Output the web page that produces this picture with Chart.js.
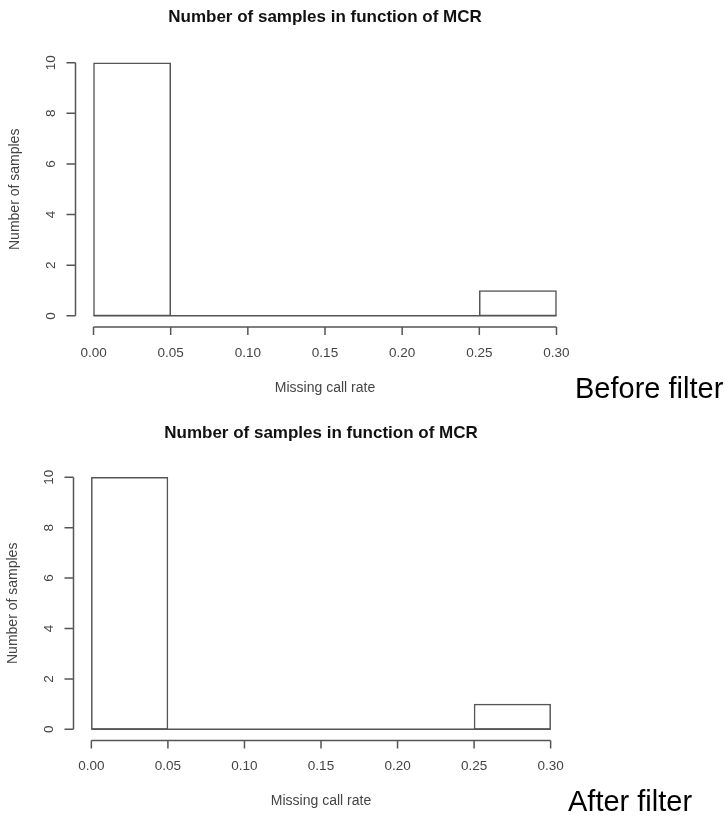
<!DOCTYPE html>
<html>
<head>
<meta charset="utf-8">
<script src="https://cdn.jsdelivr.net/npm/chart.js@4.4.1/dist/chart.umd.min.js"></script>
<style>
  body { margin: 0; background: #fff; width: 725px; height: 817px; position: relative; overflow: hidden; }
  canvas { position: absolute; left: 0; }
  #c1 { top: 0; }
  #c2 { top: 400px; }
  .note { position: absolute; font-family: 'Liberation Sans', Arial, sans-serif; font-size: 29px; color: #000; line-height: 1; white-space: nowrap; }
</style>
</head>
<body>
<canvas id="c1" width="725" height="400"></canvas>
<canvas id="c2" width="725" height="417"></canvas>
<div class="note" style="left:575px; top:374px;">Before filter</div>
<div class="note" style="left:568px; top:787px;">After filter</div>
<script>
// histogram bins (missing call rate) and counts
const binEdges = [0, 0.05, 0.10, 0.15, 0.20, 0.25, 0.30];
const countsBefore = [10, 0, 0, 0, 0, 1];
const countsAfter = [10, 0, 0, 0, 0, 1];
const xTicks = [0, 0.05, 0.10, 0.15, 0.20, 0.25, 0.30];
const yTicks = [0, 2, 4, 6, 8, 10];

const titleText = 'Number of samples in function of MCR';
const xLabel = 'Missing call rate';
const yLabel = 'Number of samples';

const FONT = "'Liberation Sans', Arial, sans-serif";
const LINE = '#555';

// R base graphics look: detached axes, rotated y labels, title
const rStyle = {
    id: 'rStyle',
    afterDatasetsDraw(chart, args, opts) {
        const ctx = chart.ctx;
        const xs = chart.scales.x, ys = chart.scales.y;
        const area = chart.chartArea;
        ctx.save();
        ctx.strokeStyle = LINE;
        ctx.lineWidth = 1.5;

        // zero-height bins still show their edge on the baseline
        const y0 = ys.getPixelForValue(0);
        ctx.beginPath();
        ctx.moveTo(xs.getPixelForValue(binEdges[0]), y0);
        ctx.lineTo(xs.getPixelForValue(binEdges[binEdges.length - 1]), y0);
        ctx.stroke();

        // x axis
        const ax = area.bottom + 1;
        ctx.beginPath();
        ctx.moveTo(xs.getPixelForValue(xTicks[0]), ax);
        ctx.lineTo(xs.getPixelForValue(xTicks[xTicks.length - 1]), ax);
        xTicks.forEach(t => {
            const px = xs.getPixelForValue(t);
            ctx.moveTo(px, ax);
            ctx.lineTo(px, ax + 8);
        });
        ctx.stroke();

        // y axis
        const ay = area.left + 0.5;
        ctx.beginPath();
        ctx.moveTo(ay, ys.getPixelForValue(yTicks[0]));
        ctx.lineTo(ay, ys.getPixelForValue(yTicks[yTicks.length - 1]));
        yTicks.forEach(t => {
            const py = ys.getPixelForValue(t);
            ctx.moveTo(ay, py);
            ctx.lineTo(ay - 9, py);
        });
        ctx.stroke();

        ctx.fillStyle = '#444';
        ctx.textAlign = 'center';
        ctx.textBaseline = 'middle';
        ctx.font = '13.5px ' + FONT;
        xTicks.forEach(t => {
            ctx.fillText(t.toFixed(2), xs.getPixelForValue(t), ax + 26);
        });
        yTicks.forEach(t => {
            ctx.save();
            ctx.translate(ay - 24, ys.getPixelForValue(t));
            ctx.rotate(-Math.PI / 2);
            ctx.fillText(String(t), 0, 0);
            ctx.restore();
        });

        const midX = (area.left + area.right) / 2;
        const midY = (area.top + area.bottom) / 2;
        ctx.font = '14px ' + FONT;
        ctx.fillText(xLabel, midX, area.bottom + 62);
        ctx.save();
        ctx.translate(opts.yLabelX, midY);
        ctx.rotate(-Math.PI / 2);
        ctx.fillText(yLabel, 0, 0);
        ctx.restore();

        ctx.fillStyle = '#111';
        ctx.font = 'bold 17px ' + FONT;
        ctx.fillText(titleText, midX, opts.titleY);
        ctx.restore();
    }
};

function makeHist(id, counts, pad, titleY, yLabelX) {
    const pts = counts.map((c, i) => ({ x: (binEdges[i] + binEdges[i + 1]) / 2, y: c }));
    return new Chart(document.getElementById(id), {
        type: 'bar',
        data: {
            datasets: [{
                data: pts,
                backgroundColor: '#fff',
                borderColor: LINE,
                borderWidth: 1.5,
                borderSkipped: false,
                barPercentage: 1,
                categoryPercentage: 1
            }]
        },
        options: {
            responsive: false,
            animation: false,
            devicePixelRatio: 1,
            layout: { padding: pad },
            scales: {
                x: { type: 'linear', min: -0.012, max: 0.312, offset: false, display: false },
                y: { min: -0.4, max: 10.4, display: false }
            },
            plugins: {
                legend: { display: false },
                tooltip: { enabled: false },
                rStyle: { titleY: titleY, yLabelX: yLabelX }
            }
        },
        plugins: [rStyle]
    });
}

makeHist('c1', countsBefore, { left: 75, right: 150, top: 52.6, bottom: 74 }, 17, 15);
makeHist('c2', countsAfter, { left: 73, right: 156, top: 67.2, bottom: 77.6 }, 33, 13);
</script>
</body>
</html>
